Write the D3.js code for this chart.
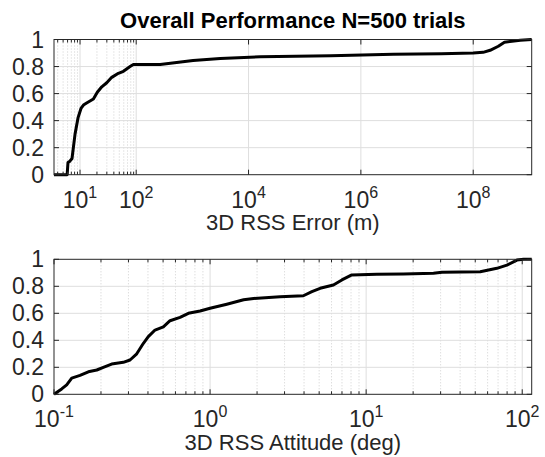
<!DOCTYPE html>
<html><head><meta charset="utf-8">
<script src="https://cdn.jsdelivr.net/npm/d3@7"></script>
<style>
body{margin:0;background:#fff}
text{font-family:"Liberation Sans",Arial,Helvetica,sans-serif;fill:#262626}
</style>
</head><body><svg id="c" width="545" height="457"></svg>
<script>
// ---- data ----
const errX = [3.44, 5.9, 6.1, 6.6, 7.2, 8.15, 9.2, 10.4, 11.5, 13.1, 17.3, 20.3, 24.4, 29.9, 36.7, 48.2, 59.2, 77.8, 89.1, 267, 1030, 3130, 16200, 2.9e5, 3.8e6, 2.7e7, 1.0e8, 1.5e8, 2.0e8, 2.8e8, 3.6e8, 6.9e8, 1.1e9];
const errY = [0, 0, 0.09, 0.1, 0.12, 0.3, 0.42, 0.49, 0.515, 0.53, 0.56, 0.61, 0.65, 0.68, 0.72, 0.75, 0.765, 0.80, 0.815, 0.815, 0.845, 0.86, 0.872, 0.88, 0.89, 0.895, 0.90, 0.905, 0.92, 0.95, 0.98, 0.995, 1.0];
const attX = [0.1, 0.112, 0.1206, 0.1299, 0.1468, 0.166, 0.188, 0.207, 0.234, 0.278, 0.307, 0.339, 0.374, 0.402, 0.444, 0.502, 0.554, 0.642, 0.726, 0.863, 1.0, 1.28, 1.64, 1.90, 2.81, 3.96, 4.49, 5.07, 6.17, 6.99, 8.09, 11.7, 17.3, 27.0, 30.6, 53.8, 68.8, 79.8, 92.5, 102, 115];
const attY = [0, 0.04, 0.07, 0.12, 0.14, 0.167, 0.18, 0.2, 0.224, 0.237, 0.254, 0.30, 0.378, 0.427, 0.476, 0.50, 0.545, 0.57, 0.60, 0.617, 0.637, 0.667, 0.70, 0.71, 0.723, 0.73, 0.76, 0.785, 0.81, 0.847, 0.884, 0.889, 0.892, 0.896, 0.904, 0.908, 0.933, 0.957, 0.994, 1.0, 1.0];
const errDomain = [3.44, 1.1e9];
const attDomain = [0.1, 115];
const yTicks = [0, 0.2, 0.4, 0.6, 0.8, 1];
const yTickLabels = ["0", "0.2", "0.4", "0.6", "0.8", "1"];
const errMajorTicks = [1e1, 1e2, 1e4, 1e6, 1e8];
const errTickExps = ["1", "2", "4", "6", "8"];
const errMinorTicks = [4, 5, 6, 7, 8, 9, 20, 30, 40, 50, 60, 70, 80, 90];
const attMajorTicks = [0.1, 1, 10, 100];
const attTickExps = ["-1", "0", "1", "2"];
const attMinorTicks = [0.2, 0.3, 0.4, 0.5, 0.6, 0.7, 0.8, 0.9, 2, 3, 4, 5, 6, 7, 8, 9, 20, 30, 40, 50, 60, 70, 80, 90];
const titleText = "Overall Performance N=500 trials";
const errLabel = "3D RSS Error (m)";
const attLabel = "3D RSS Attitude (deg)";

const svg = d3.select("#c");
svg.append("rect").attr("width", 545).attr("height", 457).attr("fill", "#fff");

function panel(box, domain, xs, ys, majors, exps, minors, label) {
  const x = d3.scaleLog().domain(domain).range([box.l, box.r]);
  const y = d3.scaleLinear().domain([0, 1]).range([box.b, box.t]);
  const g = svg.append("g");
  // minor grid
  g.selectAll(".mg").data(minors).enter().append("line")
    .attr("x1", d => x(d)).attr("x2", d => x(d)).attr("y1", box.t).attr("y2", box.b)
    .attr("stroke", "#c4c4c4").attr("stroke-width", 0.8).attr("stroke-dasharray", "1,2");
  // major grid
  g.selectAll(".Mg").data(majors.filter(d => x(d) > box.l + 1 && x(d) < box.r - 1)).enter().append("line")
    .attr("x1", d => x(d)).attr("x2", d => x(d)).attr("y1", box.t).attr("y2", box.b)
    .attr("stroke", "#dedede").attr("stroke-width", 1);
  g.selectAll(".Hg").data(yTicks.slice(1, -1)).enter().append("line")
    .attr("x1", box.l).attr("x2", box.r).attr("y1", d => y(d)).attr("y2", d => y(d))
    .attr("stroke", "#dedede").attr("stroke-width", 1);
  // data line
  const line = d3.line().x((d, i) => x(xs[i])).y((d, i) => y(ys[i]));
  g.append("path").datum(xs).attr("d", line).attr("fill", "none")
    .attr("stroke", "#000").attr("stroke-width", 3).attr("stroke-linejoin", "round");
  // box
  g.append("rect").attr("x", box.l).attr("y", box.t).attr("width", box.r - box.l).attr("height", box.b - box.t)
    .attr("fill", "none").attr("stroke", "#262626").attr("stroke-width", 1);
  // ticks
  const tk = (arr, len) => {
    arr.forEach(d => {
      const xx = x(d);
      g.append("line").attr("x1", xx).attr("x2", xx).attr("y1", box.b).attr("y2", box.b - len).attr("stroke", "#262626");
      g.append("line").attr("x1", xx).attr("x2", xx).attr("y1", box.t).attr("y2", box.t + len).attr("stroke", "#262626");
    });
  };
  tk(majors, 5); tk(minors, 3);
  yTicks.forEach(d => {
    const yy = y(d);
    g.append("line").attr("x1", box.l).attr("x2", box.l + 5).attr("y1", yy).attr("y2", yy).attr("stroke", "#262626");
    g.append("line").attr("x1", box.r).attr("x2", box.r - 5).attr("y1", yy).attr("y2", yy).attr("stroke", "#262626");
  });
  // y tick labels
  g.selectAll(".yl").data(yTicks).enter().append("text")
    .attr("x", box.l - 10).attr("y", d => y(d)).attr("dy", "0.35em")
    .attr("text-anchor", "end").attr("font-size", 23)
    .text((d, i) => yTickLabels[i]);
  // x tick labels
  majors.forEach((d, i) => {
    const t = g.append("text").attr("x", x(d)).attr("y", box.b + 33)
      .attr("text-anchor", "middle").attr("font-size", 23);
    t.append("tspan").text("10");
    t.append("tspan").attr("font-size", 16).attr("dy", -10).text(exps[i]);
  });
  // axis label
  g.append("text").attr("x", (box.l + box.r) / 2).attr("y", box.b + 55.5)
    .attr("text-anchor", "middle").attr("font-size", 22).text(label);
  return g;
}

const topBox = {l: 54, r: 531.7, t: 39.5, b: 174.7};
const botBox = {l: 54, r: 531.7, t: 259.3, b: 394.3};
panel(topBox, errDomain, errX, errY, errMajorTicks, errTickExps, errMinorTicks, errLabel);
panel(botBox, attDomain, attX, attY, attMajorTicks, attTickExps, attMinorTicks, attLabel);

svg.append("text").attr("x", (topBox.l + topBox.r) / 2).attr("y", 28)
  .attr("text-anchor", "middle").attr("font-size", 22).attr("font-weight", "bold")
  .style("fill", "#000").text(titleText);
</script>
</body></html>
